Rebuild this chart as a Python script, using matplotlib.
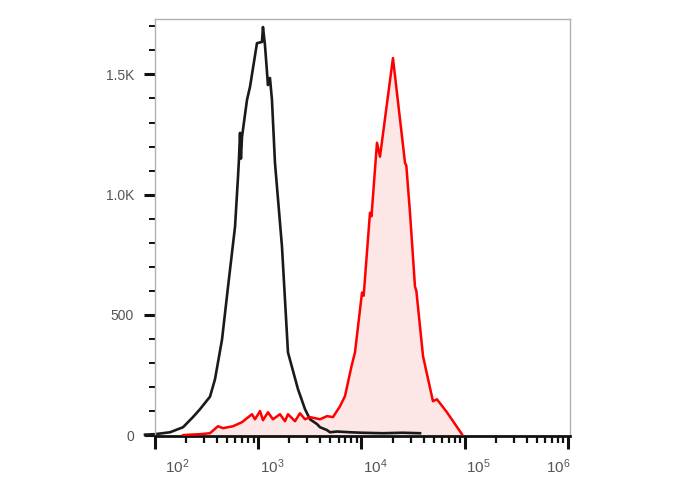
import numpy as np
import matplotlib
matplotlib.use('Agg')
import matplotlib.pyplot as plt
import matplotlib.transforms as mtransforms
from matplotlib.ticker import LogFormatterMathtext, LogLocator, MultipleLocator, FixedLocator

plt.rcParams['font.family'] = ['Liberation Sans', 'DejaVu Sans']
plt.rcParams['mathtext.default'] = 'regular'

# unstained control (black) - intensity vs count
ctrl_x = [80, 100, 140, 187, 233, 273, 341, 381, 446, 510, 596, 637, 650, 666, 680, 696,
          778, 832, 972, 1087, 1111, 1162, 1242, 1299, 1358, 1452, 1698, 1941, 2427,
          2838, 3171, 3707, 3964, 4635, 4955, 5800, 7737, 10000, 16140, 25000, 36900]
ctrl_y = [2, 4, 12, 33, 75, 108, 160, 232, 398, 618, 867, 1075, 1145, 1257, 1150, 1240,
          1394, 1448, 1630, 1635, 1697, 1622, 1456, 1485, 1394, 1133, 784, 344, 191,
          108, 66, 46, 33, 21, 12, 15, 12, 10, 8, 10, 8]

# stained sample (red)
stain_x = [187, 218, 273, 341, 407, 456, 569, 696, 870, 930, 1041, 1111, 1242, 1389,
           1624, 1816, 1941, 2270, 2537, 2838, 3171, 3964, 4635, 5297, 6190, 6920,
           8000, 8650, 10120, 10500, 12090, 12500, 14130, 15110, 20180, 26390, 27200,
           29510, 32970, 34000, 39470, 49250, 53840, 67300, 93980]
stain_y = [0, 2, 4, 8, 37, 29, 37, 54, 87, 66, 100, 62, 95, 66,
           87, 58, 87, 58, 91, 66, 75, 66, 79, 75, 120, 162,
           286, 344, 593, 580, 925, 910, 1216, 1158, 1568, 1133, 1120,
           925, 618, 600, 328, 141, 149, 95, 4]

fig = plt.figure(figsize=(6.88, 4.90), dpi=100)
ax = fig.add_axes([0.2253, 0.110, 0.6032, 0.851])

ax.fill_between(stain_x, stain_y, color='#fde6e6', zorder=1)
ax.plot(stain_x, stain_y, color='#ff0000', linewidth=1.8, zorder=3)
ax.plot(ctrl_x, ctrl_y, color='#1a1a1a', linewidth=1.9, zorder=2, clip_on=False)

ax.set_xscale('log')
ax.set_xlim(100, 10 ** 6.02)
ax.set_ylim(-4, 1730)

ax.xaxis.set_major_locator(FixedLocator([1e2, 1e3, 1e4, 1e5, 1e6]))
ax.xaxis.set_major_formatter(LogFormatterMathtext())
ax.xaxis.set_minor_locator(LogLocator(base=10, subs=np.arange(2, 10)))
ax.yaxis.set_major_locator(FixedLocator([0, 500, 1000, 1500]))
ax.yaxis.set_major_formatter(plt.FuncFormatter(
    lambda v, p: {0: '0', 500: '500', 1000: '1.0K', 1500: '1.5K'}.get(int(v), '')))
ax.yaxis.set_minor_locator(MultipleLocator(100))

for s in ['top', 'right', 'left']:
    ax.spines[s].set_color('#b0b0b0')
    ax.spines[s].set_linewidth(1.0)
ax.spines['bottom'].set_color('#111111')
ax.spines['bottom'].set_linewidth(2.0)

ax.tick_params(axis='both', which='major', direction='out', color='#111111',
               labelcolor='#555555')
ax.tick_params(axis='x', which='major', length=9, width=2.2, pad=6, labelsize=11)
ax.tick_params(axis='x', which='minor', length=5, width=1.6, color='#111111')
ax.tick_params(axis='y', which='major', length=8, width=2.2, pad=7, labelsize=10)
ax.tick_params(axis='y', which='minor', length=4, width=1.4, color='#111111')

# FlowJo-style placement of decade labels
fig.canvas.draw()
xlabels = ax.get_xticklabels()
for i, lab in enumerate(xlabels):
    if i == len(xlabels) - 1:
        lab.set_ha('right')
        lab.set_transform(lab.get_transform() + mtransforms.ScaledTranslation(2 / 72, 0, fig.dpi_scale_trans))
    elif i == 0:
        lab.set_ha('left')
        lab.set_transform(lab.get_transform() + mtransforms.ScaledTranslation(7 / 72, 0, fig.dpi_scale_trans))
    else:
        lab.set_ha('left')
        lab.set_transform(lab.get_transform() + mtransforms.ScaledTranslation(1 / 72, 0, fig.dpi_scale_trans))

fig.savefig('out.png', dpi=100)
